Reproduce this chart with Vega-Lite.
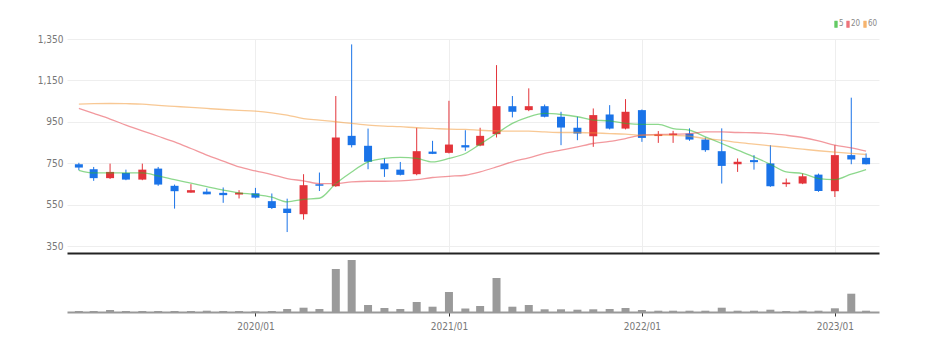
{
  "$schema": "https://vega.github.io/schema/vega-lite/v6.json",
  "padding": {"left": 37, "top": 20, "right": 55, "bottom": 19},
  "background": "white",
  "spacing": 0,
  "config": {
    "view": {"stroke": null},
    "font": "DejaVu Sans Condensed, Liberation Sans Narrow, Liberation Sans, sans-serif",
    "axis": {"labelColor": "#777", "labelFontSize": 10, "labelFont": "DejaVu Sans Condensed, Liberation Sans Narrow, Liberation Sans, sans-serif"},
    "legend": {"labelFont": "DejaVu Sans Condensed, Liberation Sans Narrow, Liberation Sans, sans-serif"}
  },
  "datasets": {
    "d": [
      {"date": "2019-02-01", "open": 746, "high": 753, "low": 717, "close": 730, "vol": 1, "ma5": 717, "ma20": 1015, "ma60": 1036},
      {"date": "2019-03-01", "open": 722, "high": 733, "low": 666, "close": 679, "vol": 1, "ma5": 704, "ma20": 991, "ma60": 1038},
      {"date": "2019-04-01", "open": 679, "high": 749, "low": 675, "close": 709, "vol": 2, "ma5": 704, "ma20": 964, "ma60": 1039},
      {"date": "2019-05-01", "open": 704, "high": 720, "low": 669, "close": 672, "vol": 1, "ma5": 704, "ma20": 935, "ma60": 1038},
      {"date": "2019-06-01", "open": 672, "high": 749, "low": 669, "close": 720, "vol": 1, "ma5": 704, "ma20": 907, "ma60": 1036},
      {"date": "2019-07-01", "open": 725, "high": 733, "low": 642, "close": 648, "vol": 1, "ma5": 690, "ma20": 881, "ma60": 1030},
      {"date": "2019-08-01", "open": 642, "high": 648, "low": 532, "close": 616, "vol": 1, "ma5": 672, "ma20": 854, "ma60": 1025},
      {"date": "2019-09-01", "open": 609, "high": 650, "low": 609, "close": 621, "vol": 1, "ma5": 655, "ma20": 822, "ma60": 1020},
      {"date": "2019-10-01", "open": 614, "high": 629, "low": 601, "close": 601, "vol": 1.3, "ma5": 638, "ma20": 790, "ma60": 1015},
      {"date": "2019-11-01", "open": 608, "high": 634, "low": 560, "close": 597, "vol": 1, "ma5": 621, "ma20": 761, "ma60": 1010},
      {"date": "2019-12-01", "open": 600, "high": 621, "low": 581, "close": 609, "vol": 1, "ma5": 608, "ma20": 733, "ma60": 1006},
      {"date": "2020-01-01", "open": 606, "high": 632, "low": 581, "close": 585, "vol": 0.7, "ma5": 600, "ma20": 714, "ma60": 1002},
      {"date": "2020-02-01", "open": 568, "high": 605, "low": 530, "close": 535, "vol": 1, "ma5": 587, "ma20": 696, "ma60": 994},
      {"date": "2020-03-01", "open": 532, "high": 580, "low": 419, "close": 511, "vol": 3, "ma5": 565, "ma20": 677, "ma60": 983},
      {"date": "2020-04-01", "open": 505, "high": 698, "low": 479, "close": 645, "vol": 4.3, "ma5": 577, "ma20": 666, "ma60": 966},
      {"date": "2020-05-01", "open": 650, "high": 706, "low": 617, "close": 642, "vol": 3, "ma5": 582, "ma20": 653, "ma60": 959},
      {"date": "2020-06-01", "open": 640, "high": 1075, "low": 637, "close": 875, "vol": 43, "ma5": 653, "ma20": 653, "ma60": 951},
      {"date": "2020-07-01", "open": 883, "high": 1324, "low": 827, "close": 838, "vol": 52, "ma5": 709, "ma20": 661, "ma60": 943},
      {"date": "2020-08-01", "open": 835, "high": 918, "low": 722, "close": 758, "vol": 7, "ma5": 757, "ma20": 664, "ma60": 935},
      {"date": "2020-09-01", "open": 750, "high": 774, "low": 685, "close": 722, "vol": 4, "ma5": 774, "ma20": 664, "ma60": 930},
      {"date": "2020-10-01", "open": 720, "high": 757, "low": 692, "close": 695, "vol": 3, "ma5": 779, "ma20": 666, "ma60": 927},
      {"date": "2020-11-01", "open": 698, "high": 922, "low": 693, "close": 809, "vol": 10, "ma5": 774, "ma20": 672, "ma60": 922},
      {"date": "2020-12-01", "open": 807, "high": 859, "low": 795, "close": 796, "vol": 5.3, "ma5": 757, "ma20": 682, "ma60": 919},
      {"date": "2021-01-01", "open": 801, "high": 1052, "low": 798, "close": 841, "vol": 20, "ma5": 774, "ma20": 688, "ma60": 915},
      {"date": "2021-02-01", "open": 838, "high": 910, "low": 811, "close": 827, "vol": 3.5, "ma5": 798, "ma20": 693, "ma60": 914},
      {"date": "2021-03-01", "open": 836, "high": 922, "low": 833, "close": 883, "vol": 6, "ma5": 843, "ma20": 709, "ma60": 910},
      {"date": "2021-04-01", "open": 891, "high": 1224, "low": 875, "close": 1026, "vol": 34, "ma5": 894, "ma20": 733, "ma60": 907},
      {"date": "2021-05-01", "open": 1026, "high": 1075, "low": 972, "close": 999, "vol": 5.3, "ma5": 943, "ma20": 758, "ma60": 906},
      {"date": "2021-06-01", "open": 1007, "high": 1112, "low": 1002, "close": 1026, "vol": 7, "ma5": 975, "ma20": 777, "ma60": 906},
      {"date": "2021-07-01", "open": 1026, "high": 1034, "low": 972, "close": 975, "vol": 2.7, "ma5": 991, "ma20": 798, "ma60": 902},
      {"date": "2021-08-01", "open": 975, "high": 999, "low": 838, "close": 923, "vol": 2.7, "ma5": 986, "ma20": 814, "ma60": 899},
      {"date": "2021-09-01", "open": 922, "high": 975, "low": 862, "close": 894, "vol": 2.3, "ma5": 975, "ma20": 830, "ma60": 899},
      {"date": "2021-10-01", "open": 881, "high": 1015, "low": 830, "close": 983, "vol": 2.7, "ma5": 959, "ma20": 846, "ma60": 897},
      {"date": "2021-11-01", "open": 986, "high": 1031, "low": 914, "close": 918, "vol": 3, "ma5": 955, "ma20": 856, "ma60": 894},
      {"date": "2021-12-01", "open": 918, "high": 1060, "low": 914, "close": 999, "vol": 4, "ma5": 943, "ma20": 870, "ma60": 891},
      {"date": "2022-01-01", "open": 1007, "high": 1010, "low": 854, "close": 873, "vol": 2, "ma5": 938, "ma20": 886, "ma60": 886},
      {"date": "2022-02-01", "open": 882, "high": 906, "low": 849, "close": 890, "vol": 1.3, "ma5": 938, "ma20": 890, "ma60": 886},
      {"date": "2022-03-01", "open": 886, "high": 907, "low": 849, "close": 894, "vol": 1.3, "ma5": 918, "ma20": 891, "ma60": 885},
      {"date": "2022-04-01", "open": 894, "high": 919, "low": 859, "close": 865, "vol": 1.3, "ma5": 910, "ma20": 894, "ma60": 881},
      {"date": "2022-05-01", "open": 865, "high": 875, "low": 806, "close": 814, "vol": 1.3, "ma5": 878, "ma20": 902, "ma60": 870},
      {"date": "2022-06-01", "open": 809, "high": 919, "low": 653, "close": 738, "vol": 4.3, "ma5": 846, "ma20": 902, "ma60": 862},
      {"date": "2022-07-01", "open": 746, "high": 774, "low": 709, "close": 758, "vol": 1.3, "ma5": 814, "ma20": 899, "ma60": 851},
      {"date": "2022-08-01", "open": 766, "high": 790, "low": 720, "close": 756, "vol": 1.3, "ma5": 782, "ma20": 898, "ma60": 843},
      {"date": "2022-09-01", "open": 750, "high": 838, "low": 637, "close": 640, "vol": 2.3, "ma5": 746, "ma20": 894, "ma60": 835},
      {"date": "2022-10-01", "open": 650, "high": 677, "low": 637, "close": 658, "vol": 1, "ma5": 709, "ma20": 886, "ma60": 827},
      {"date": "2022-11-01", "open": 653, "high": 701, "low": 650, "close": 688, "vol": 1.3, "ma5": 701, "ma20": 875, "ma60": 819},
      {"date": "2022-12-01", "open": 696, "high": 701, "low": 613, "close": 617, "vol": 1.3, "ma5": 677, "ma20": 859, "ma60": 811},
      {"date": "2023-01-01", "open": 616, "high": 838, "low": 588, "close": 790, "vol": 3.7, "ma5": 672, "ma20": 838, "ma60": 804},
      {"date": "2023-02-01", "open": 790, "high": 1067, "low": 746, "close": 769, "vol": 18.3, "ma5": 698, "ma20": 825, "ma60": 798},
      {"date": "2023-03-01", "open": 777, "high": 798, "low": 745, "close": 746, "vol": 1.3, "ma5": 720, "ma20": 809, "ma60": 793}
    ]
  },
  "vconcat": [
    {
      "width": 812,
      "height": 214,
      "data": {"name": "d"},
      "encoding": {
        "x": {
          "field": "date",
          "type": "temporal",
          "scale": {
            "type": "utc",
            "domain": [
              {"year": 2019, "month": 1, "date": 19, "utc": true},
              {"year": 2023, "month": 3, "date": 16, "utc": true}
            ]
          },
          "axis": {
            "title": null,
            "labels": false,
            "ticks": false,
            "domain": true,
            "domainColor": "#222",
            "domainWidth": 2,
            "grid": true,
            "gridColor": "#eeeeee",
            "values": [
              {"year": 2020, "month": 1, "date": 1, "utc": true},
              {"year": 2021, "month": 1, "date": 1, "utc": true},
              {"year": 2022, "month": 1, "date": 1, "utc": true},
              {"year": 2023, "month": 1, "date": 1, "utc": true}
            ]
          }
        },
        "y": {
          "type": "quantitative",
          "scale": {"domain": [318, 1350], "nice": false, "zero": false},
          "axis": {
            "title": null,
            "values": [350, 550, 750, 950, 1150, 1350],
            "format": ",.0f",
            "domain": false,
            "ticks": false,
            "grid": true,
            "gridColor": "#eeeeee",
            "labelPadding": 4
          }
        }
      },
      "layer": [
        {
          "mark": {"type": "rule", "strokeWidth": 1},
          "encoding": {
            "y": {"field": "low", "type": "quantitative"},
            "y2": {"field": "high"},
            "color": {
              "condition": {"test": "datum.close >= datum.open", "value": "#e3343a"},
              "value": "#1a73e8"
            }
          }
        },
        {
          "mark": {"type": "bar", "size": 8},
          "encoding": {
            "y": {"field": "open", "type": "quantitative"},
            "y2": {"field": "close"},
            "color": {
              "condition": {"test": "datum.close >= datum.open", "value": "#e3343a"},
              "value": "#1a73e8"
            }
          }
        },
        {
          "transform": [{"fold": ["ma5", "ma20", "ma60"], "as": ["key", "val"]}],
          "mark": {"type": "line", "strokeWidth": 1.3, "opacity": 0.55, "interpolate": "monotone"},
          "encoding": {
            "y": {"field": "val", "type": "quantitative"},
            "color": {
              "field": "key",
              "type": "nominal",
              "scale": {"domain": ["ma5", "ma20", "ma60"], "range": ["#2fb82f", "#e8454f", "#f39a3c"]},
              "legend": {
                "orient": "none",
                "legendX": 765,
                "legendY": -19,
                "direction": "horizontal",
                "title": null,
                "symbolType": "M-0.67,-2.3V2.3M0,-2.3V2.3M0.67,-2.3V2.3",
                "symbolSize": 9,
                "symbolOpacity": 1,
                "symbolStrokeWidth": 1,
                "labelFontSize": 8,
                "labelColor": "#888",
                "labelOffset": -1,
                "columnPadding": 0,
                "labelExpr": "replace(datum.label, 'ma', '')"
              }
            }
          }
        }
      ]
    },
    {
      "width": 812,
      "height": 59,
      "data": {"name": "d"},
      "mark": {"type": "bar", "size": 8, "color": "#9a9a9a"},
      "encoding": {
        "x": {
          "field": "date",
          "type": "temporal",
          "scale": {
            "type": "utc",
            "domain": [
              {"year": 2019, "month": 1, "date": 19, "utc": true},
              {"year": 2023, "month": 3, "date": 16, "utc": true}
            ]
          },
          "axis": {
            "title": null,
            "format": "%Y/%m",
            "grid": false,
            "domainColor": "#999",
            "domainWidth": 2,
            "ticks": true,
            "tickColor": "#333",
            "tickSize": 4,
            "labelPadding": 5,
            "values": [
              {"year": 2020, "month": 1, "date": 1, "utc": true},
              {"year": 2021, "month": 1, "date": 1, "utc": true},
              {"year": 2022, "month": 1, "date": 1, "utc": true},
              {"year": 2023, "month": 1, "date": 1, "utc": true}
            ]
          }
        },
        "y": {
          "field": "vol",
          "type": "quantitative",
          "scale": {"domain": [0, 59], "nice": false},
          "axis": null
        }
      }
    }
  ]
}
